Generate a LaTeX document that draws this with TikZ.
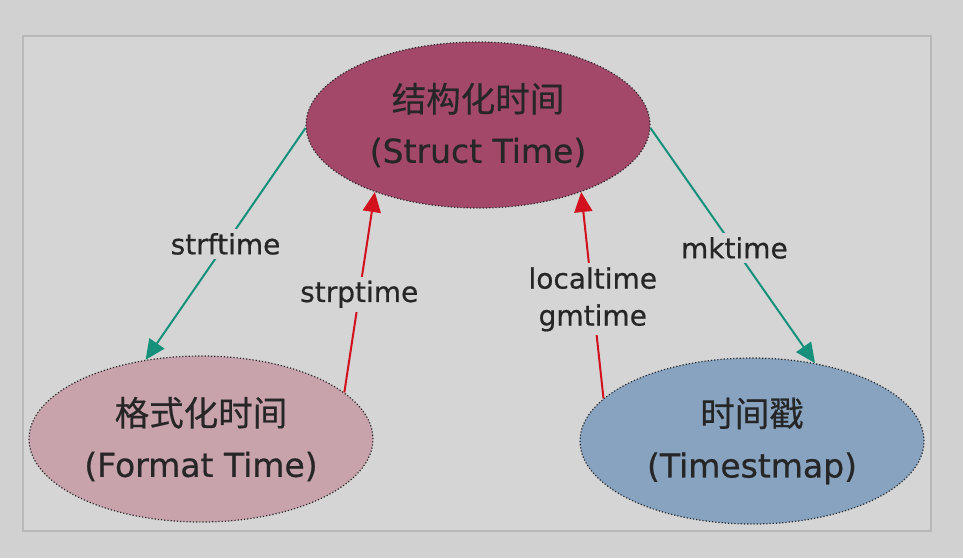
\documentclass[tikz,border=0pt]{standalone}
\usepackage{fontspec}
\setmainfont{DejaVu Sans}[FakeBold=0.6]
\newfontfamily\cjk{Noto Sans CJK SC}[FakeBold=0.4]
\usetikzlibrary{
  arrows.meta,
  shapes.geometric
}
\definecolor{outerbg}{HTML}{D1D1D1}
\definecolor{innerbg}{HTML}{D5D5D5}
\definecolor{framegray}{HTML}{B8B8B8}
\definecolor{structcol}{HTML}{A4486A}
\definecolor{formatcol}{HTML}{C8A3AB}
\definecolor{stampcol}{HTML}{87A3C0}
\definecolor{tealcol}{HTML}{15917B}
\definecolor{redcol}{HTML}{D3101E}
\definecolor{inkcol}{HTML}{262626}

\begin{document}
\begin{tikzpicture}[x=1pt,y=-1pt,
	timestate/.style={ellipse,draw=black!85,line width=1.2pt,dash pattern=on 1.2pt off 2pt,
		inner sep=0pt,minimum width=344pt,minimum height=166pt,align=center,
		text=inkcol,font=\fontsize{33}{51}\selectfont},
	tofwd/.style={tealcol,line width=2pt,-{Triangle[length=20pt,width=18pt]}},
	toback/.style={redcol,line width=2pt,-{Triangle[length=20pt,width=18pt]}},
	fname/.style={fill=innerbg,text=inkcol,inner sep=4pt,align=center,
		font=\fontsize{28}{37}\selectfont},
]
	\useasboundingbox[fill=outerbg] (0,0) rectangle (963,558);
	\draw[framegray,fill=innerbg,line width=1.5pt] (23,36) rectangle (931,531);

	\node[timestate,fill=structcol] (struct) at (478,125) {{\cjk\fontsize{34.5}{51}\selectfont 结构化时间}\\(Struct Time)};
	\node[timestate,fill=formatcol] (fmt) at (201,439) {{\cjk\fontsize{34.5}{51}\selectfont 格式化时间}\\(Format Time)};
	\node[timestate,fill=stampcol] (stamp) at (752,441) {{\cjk\fontsize{34.5}{51}\selectfont 时间戳}\\(Timestmap)};

	\draw[tofwd] (struct.181) -- (fmt.125) node[fname,midway] (strf) {strftime};
	\draw[toback] (fmt.18) -- (struct.213) node[fname,pos=0.49] (strp) {strptime};
	\draw[toback] (stamp.164) -- (struct.327) node[fname,pos=0.48] (local) {localtime\\gmtime};
	\draw[tofwd] (struct.359) -- (stamp.51) node[fname,pos=0.51] (mk) {mktime};
\end{tikzpicture}
\end{document}
